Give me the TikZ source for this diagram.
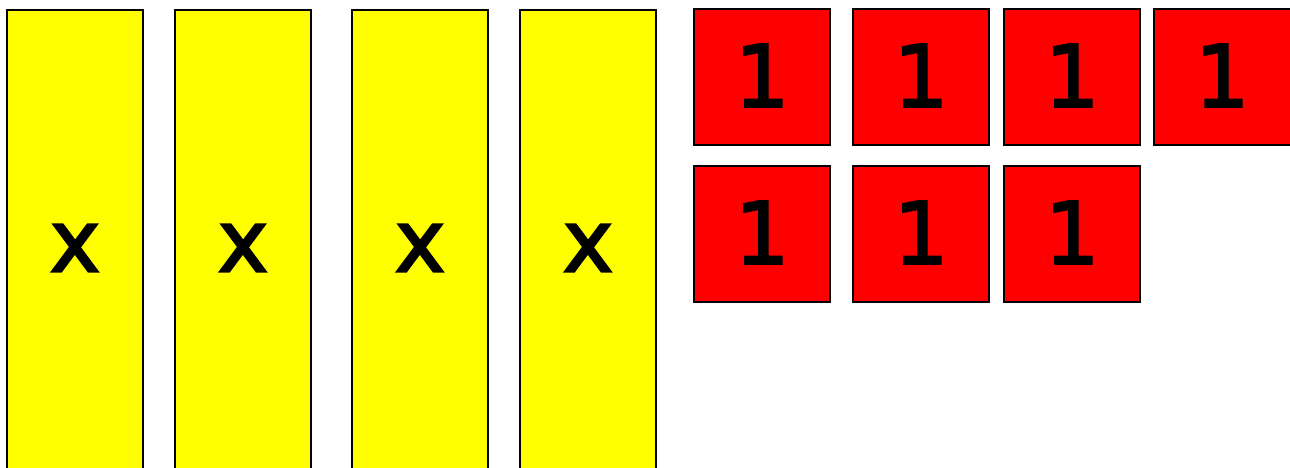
\documentclass[tikz,border=0pt]{standalone}
\usepackage{fontspec}
\setmainfont{DejaVu Sans}
\newfontfamily\tilefont[FakeBold=2.5]{DejaVu Sans}
\definecolor{baryellow}{RGB}{255,255,0}
\definecolor{unitred}{RGB}{255,0,0}
\begin{document}
\begin{tikzpicture}[x=1pt,y=-1pt,
  tile/.style={draw=black,line width=2.2pt,inner sep=0pt,
    font=\tilefont\fontsize{86}{86}\selectfont},
  xbar/.style={tile,fill=baryellow,minimum width=136pt,minimum height=476pt},
  unit/.style={tile,fill=unitred,minimum width=136pt,minimum height=136pt}]
\useasboundingbox (0,0) rectangle (1290,468);
\clip (0,0) rectangle (1290,468);
\node[xbar] (b1) at (75,248) {x};
\node[xbar] (b2) at (243,248) {x};
\node[xbar] (b3) at (420,248) {x};
\node[xbar] (b4) at (588,248) {x};
\node[unit] (u1) at (762,77) {\raisebox{3pt}{1}};
\node[unit] (u2) at (921,77) {\raisebox{3pt}{1}};
\node[unit] (u3) at (1072,77) {\raisebox{3pt}{1}};
\node[unit,minimum width=142pt] (u4) at (1225,77) {\hspace*{-6pt}\raisebox{3pt}{1}};
\node[unit] (u5) at (762,234) {\raisebox{3pt}{1}};
\node[unit] (u6) at (921,234) {\raisebox{3pt}{1}};
\node[unit] (u7) at (1072,234) {\raisebox{3pt}{1}};
\end{tikzpicture}
\end{document}
